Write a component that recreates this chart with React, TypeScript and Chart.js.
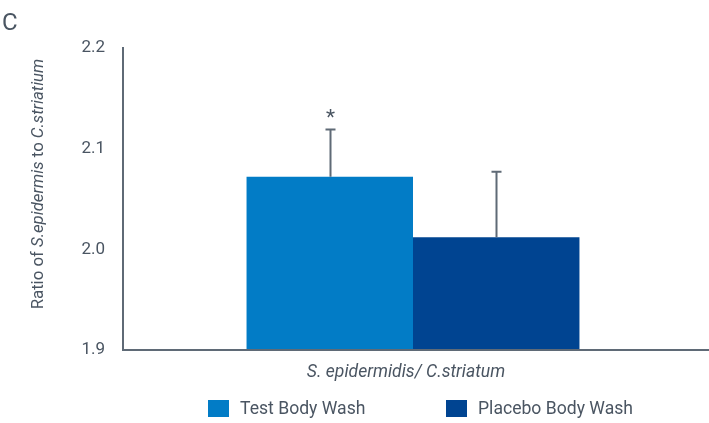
import React, { useEffect, useRef } from "react";
import { Chart, registerables } from "chart.js";

Chart.register(...registerables);

const categories = ["S. epidermidis/ C.striatum"];
const seriesNames = ["Test Body Wash", "Placebo Body Wash"];
const testValues = [2.072];
const placeboValues = [2.012];
const testErrors = [0.047];
const placeboErrors = [0.065];
const significance = ["*", ""];
const yTicks = [1.9, 2.0, 2.1, 2.2];
const panelLabel = "C";
const yTitleParts: [string, boolean][] = [
  ["Ratio of ", false],
  ["S.epidermis", true],
  [" to ", false],
  ["C.striatium", true],
];

const COLORS = ["#027cc6", "#004491"];
const TEXT = "#4a5562";
const AXIS = "#5f6a76";
const FONT = "Roboto, 'Noto Sans', sans-serif";

export default function App() {
  const ref = useRef<HTMLCanvasElement | null>(null);

  useEffect(() => {
    if (!ref.current) return;
    const errs = [testErrors, placeboErrors];

    const overlay = {
      id: "overlay",
      afterDatasetsDraw(chart: any) {
        const ctx = chart.ctx;
        const ys = chart.scales.y;
        const area = chart.chartArea;
        ctx.save();
        chart.data.datasets.forEach((ds: any, di: number) => {
          const meta = chart.getDatasetMeta(di);
          meta.data.forEach((bar: any, i: number) => {
            const v = ds.data[i];
            const top = ys.getPixelForValue(v + errs[di][i]);
            const base = ys.getPixelForValue(v);
            const x = Math.round(bar.x) + 0.5;
            ctx.strokeStyle = AXIS;
            ctx.lineWidth = 2;
            ctx.beginPath();
            ctx.moveTo(x, base);
            ctx.lineTo(x, top);
            ctx.moveTo(x - 5, top);
            ctx.lineTo(x + 5, top);
            ctx.stroke();
            if (significance[di]) {
              ctx.fillStyle = TEXT;
              ctx.font = `21px ${FONT}`;
              ctx.textAlign = "center";
              ctx.textBaseline = "middle";
              ctx.fillText(significance[di], x, top - 11);
            }
          });
        });
        ctx.strokeStyle = AXIS;
        ctx.lineWidth = 2;
        ctx.beginPath();
        ctx.moveTo(area.left - 1, area.bottom);
        ctx.lineTo(chart.width, area.bottom);
        ctx.stroke();

        ctx.fillStyle = TEXT;
        ctx.font = `24px ${FONT}`;
        ctx.textAlign = "left";
        ctx.textBaseline = "alphabetic";
        ctx.fillText(panelLabel, 2, 30);

        ctx.save();
        ctx.translate(43, 184);
        ctx.rotate(-Math.PI / 2);
        ctx.textBaseline = "alphabetic";
        let total = 0;
        const widths = yTitleParts.map(([t, it]) => {
          ctx.font = `${it ? "italic " : ""}16.8px ${FONT}`;
          const w = ctx.measureText(t).width;
          total += w;
          return w;
        });
        let cx = -total / 2;
        yTitleParts.forEach(([t, it], k) => {
          ctx.font = `${it ? "italic " : ""}16.8px ${FONT}`;
          ctx.fillText(t, cx, 0);
          cx += widths[k];
        });
        ctx.restore();

        ctx.font = `italic 17.6px ${FONT}`;
        ctx.textAlign = "center";
        ctx.textBaseline = "middle";
        ctx.fillText(categories[0], 406, 373);

        const items = [
          { bx: 208, tx: 240 },
          { bx: 446, tx: 478 },
        ];
        ctx.font = `17.6px ${FONT}`;
        ctx.textAlign = "left";
        items.forEach((it, k) => {
          ctx.fillStyle = COLORS[k];
          ctx.fillRect(it.bx, 400, 21, 17);
          ctx.fillStyle = TEXT;
          ctx.fillText(seriesNames[k], it.tx, 410);
        });
        ctx.restore();
      },
    };

    const chart = new Chart(ref.current, {
      type: "bar",
      data: {
        labels: categories,
        datasets: [
          {
            label: seriesNames[0],
            data: testValues,
            backgroundColor: COLORS[0],
            categoryPercentage: 0.574,
            barPercentage: 1,
          },
          {
            label: seriesNames[1],
            data: placeboValues,
            backgroundColor: COLORS[1],
            categoryPercentage: 0.574,
            barPercentage: 1,
          },
        ],
      },
      options: {
        responsive: false,
        animation: false,
        layout: { padding: { left: 0, top: 48, right: 6, bottom: 73 } },
        plugins: {
          legend: { display: false },
          tooltip: { enabled: false },
          title: { display: false },
        },
        scales: {
          x: {
            ticks: { display: false },
            grid: { display: false, drawTicks: false },
            border: { display: false },
            afterFit: (s: any) => {
              s.height = 0;
            },
          },
          y: {
            min: yTicks[0],
            max: yTicks[yTicks.length - 1],
            afterBuildTicks: (s: any) => {
              s.ticks = yTicks.map((v) => ({ value: v }));
            },
            ticks: {
              padding: 18,
              color: TEXT,
              font: { family: FONT, size: 17 },
              callback: (v: any) => Number(v).toFixed(1),
            },
            grid: { display: false, drawTicks: false },
            border: { display: true, color: AXIS, width: 2 },
            afterFit: (s: any) => {
              s.width = 123;
            },
          },
        },
      },
      plugins: [overlay],
    });
    return () => chart.destroy();
  }, []);

  return (
    <div style={{ position: "fixed", left: 0, top: 0, width: 709, height: 423, background: "#fff" }}>
      <canvas ref={ref} width={709} height={423} />
    </div>
  );
}
